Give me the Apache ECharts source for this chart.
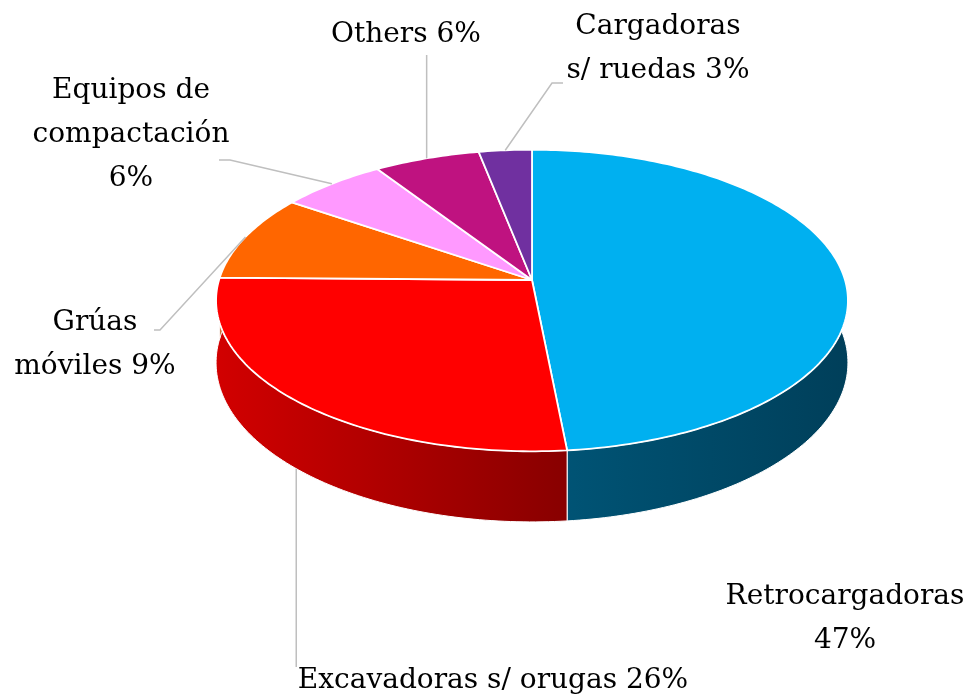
<!DOCTYPE html>
<html>
<head>
<meta charset="UTF-8">
<title>Maquinaria</title>
<script src="https://cdn.jsdelivr.net/npm/echarts@6/dist/echarts.min.js"></script>
<style>
  html, body { margin: 0; padding: 0; background: #fff; }
  #main { width: 968px; height: 694px; }
</style>
</head>
<body>
<div id="main"></div>
<script>
  // datos (porcentajes de la figura)
  var categories = ['Retrocargadoras', 'Excavadoras s/ orugas', 'Grúas móviles', 'Equipos de compactación', 'Others', 'Cargadoras s/ ruedas'];
  var values = [47, 26, 9, 6, 6, 3];
  // texto de etiqueta con saltos de línea como en la figura
  var labelNames = ['Retrocargadoras\n', 'Excavadoras s/ orugas ', 'Grúas\nmóviles ', 'Equipos de\ncompactación\n', 'Others ', 'Cargadoras\ns/ ruedas '];

  var topColors = ['#00b0f0', '#ff0000', '#ff6600', '#ff99ff', '#bf1280', '#7030a0'];
  var wallColors = [['#005678', '#003f5a'], ['#d20000', '#880000'], ['#c04d00', '#803300'], ['#c070c0', '#905090'], ['#8a0d5c', '#600840'], ['#502078', '#381555']];

  // layout de etiquetas: centro del bloque de texto y puntos de la guía
  var labelPos = [[845, 619], [493, 681], [95, 345], [131, 135], [406, 35], [658, 49]];
  var leaderPts = [null, [[null, 667]], [[160, 330], [154, 330]], [[230, 160], [219, 160]], [[null, 55]], [[552, 83], [563, 83]]];
  var leaderDepth = [0, 1, 0, 0, 0, 0];

  // geometria del pastel 3D (perspectiva simple)
  var CX = 532, CY = 280, RX = 313, RY = 148, K = 0.136, DEPTH = 61;

  function proj(theta, h) {
    var c = Math.cos(theta), s = Math.sin(theta), den = 1 + K * c;
    return [CX + RX * s / den, CY - RY * c / den + h * DEPTH / den];
  }

  var total = values.reduce(function (a, b) { return a + b; }, 0);
  var starts = [];
  var acc = 0;
  values.forEach(function (v) { starts.push(acc / total * Math.PI * 2); acc += v; });

  function arc(a0, a1, h) {
    var n = Math.max(2, Math.ceil((a1 - a0) / (Math.PI / 180)));
    var pts = [];
    for (var j = 0; j <= n; j++) pts.push(proj(a0 + (a1 - a0) * j / n, h));
    return pts;
  }

  function renderItem(params, api) {
    var i = params.dataIndex;
    var a0 = starts[i];
    var a1 = a0 + api.value(0) / total * Math.PI * 2;
    var topArc = arc(a0, a1, 0);
    var wall = topArc.concat(arc(a0, a1, 1).reverse());
    var top = [[CX, CY]].concat(topArc);
    var children = [
      {
        type: 'polygon', z2: 1,
        shape: { points: wall },
        style: {
          fill: new echarts.graphic.LinearGradient(0, 0, 1, 0, [
            { offset: 0, color: wallColors[i][0] },
            { offset: 1, color: wallColors[i][1] }
          ]),
          stroke: '#fff', lineWidth: 1
        }
      },
      {
        type: 'polygon', z2: 5,
        shape: { points: top },
        style: { fill: topColors[i], stroke: '#fff', lineWidth: 1.8, lineJoin: 'round' }
      },
      {
        type: 'text', z2: 10,
        style: {
          text: labelNames[i] + api.value(0) + '%',
          x: labelPos[i][0], y: labelPos[i][1],
          align: 'center', verticalAlign: 'middle',
          font: '28px "DejaVu Serif"', lineHeight: 44, fill: '#000'
        }
      }
    ];
    if (leaderPts[i]) {
      var anchor = proj((a0 + a1) / 2, leaderDepth[i]);
      var pts = [anchor];
      leaderPts[i].forEach(function (p) { pts.push([p[0] == null ? anchor[0] : p[0], p[1]]); });
      children.push({
        type: 'polyline', z2: 8,
        shape: { points: pts },
        style: { stroke: '#bfbfbf', lineWidth: 1.5, fill: null }
      });
    }
    return { type: 'group', children: children };
  }

  var myChart = echarts.init(document.getElementById('main'));
  var option = {
    animation: false,
    series: [{
      type: 'custom',
      name: 'Maquinaria',
      coordinateSystem: 'none',
      data: values.map(function (v, i) { return { name: categories[i], value: v }; }),
      renderItem: renderItem
    }]
  };
  myChart.setOption(option);
</script>
</body>
</html>
